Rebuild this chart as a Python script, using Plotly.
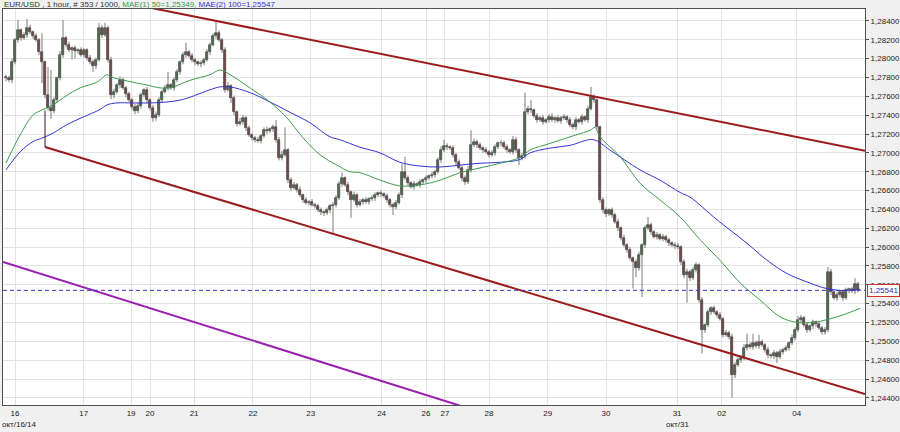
import plotly.graph_objects as go
import numpy as np

# ---------------- data ----------------
open_first = 1.2781
closes = [
    1.2779, 1.2777, 1.2796, 1.2820, 1.2830, 1.2822, 1.2825, 1.2833, 1.2828, 1.2824,
    1.2820, 1.2807, 1.2796, 1.2761, 1.2748, 1.2744, 1.2756, 1.2779, 1.2804, 1.2822,
    1.2815, 1.2809, 1.2811, 1.2808, 1.2809, 1.2804, 1.2809, 1.2801, 1.2796, 1.2792,
    1.2799, 1.2833, 1.2825, 1.2833, 1.2799, 1.2761, 1.2765, 1.2772, 1.2777, 1.2769,
    1.2762, 1.2756, 1.2749, 1.2744, 1.2750, 1.2761, 1.2767, 1.2756, 1.2748, 1.2737,
    1.2740, 1.2756, 1.2765, 1.2769, 1.2772, 1.2769, 1.2777, 1.2786, 1.2796, 1.2804,
    1.2807, 1.2803, 1.2799, 1.2796, 1.2794, 1.2795, 1.2799, 1.2807, 1.2815, 1.2824,
    1.2827, 1.2820, 1.2809, 1.2767, 1.2771, 1.2758, 1.2743, 1.2731, 1.2733, 1.2737,
    1.2726, 1.2719, 1.2716, 1.2714, 1.2713, 1.2718, 1.2724, 1.2723, 1.2725, 1.2727,
    1.2714, 1.2695, 1.2698, 1.2703, 1.2671, 1.2663, 1.2666, 1.2661, 1.2655, 1.2650,
    1.2647, 1.2648, 1.2645, 1.2644, 1.2639, 1.2637, 1.2636, 1.2639, 1.2644, 1.2645,
    1.2652, 1.2667, 1.2673, 1.2666, 1.2658, 1.2650, 1.2655, 1.2645, 1.2648, 1.2650,
    1.2648, 1.2651, 1.2652, 1.2655, 1.2657, 1.2656, 1.2654, 1.2650, 1.2645, 1.2643,
    1.2647, 1.2655, 1.2680, 1.2673, 1.2668, 1.2664, 1.2667, 1.2666, 1.2669, 1.2671,
    1.2673, 1.2675, 1.2677, 1.2680, 1.2692, 1.2703, 1.2707, 1.2706, 1.2705, 1.2698,
    1.2690, 1.2684, 1.2673, 1.2669, 1.2682, 1.2708, 1.2712, 1.2708, 1.2705, 1.2703,
    1.2701, 1.2698, 1.2700, 1.2706, 1.2710, 1.2711, 1.2706, 1.2703, 1.2701, 1.2714,
    1.2703, 1.2695, 1.2697, 1.2743, 1.2747, 1.2745, 1.2739, 1.2735, 1.2737, 1.2733,
    1.2735, 1.2738, 1.2735, 1.2737, 1.2734, 1.2737, 1.2738, 1.2735, 1.2730, 1.2727,
    1.2735, 1.2733, 1.2738, 1.2735, 1.2747, 1.2759, 1.2756, 1.2727, 1.2650, 1.2639,
    1.2635, 1.2639, 1.2634, 1.2627, 1.2620, 1.2610, 1.2602, 1.2597, 1.2588, 1.2584,
    1.2578, 1.2592, 1.2602, 1.2620, 1.2623, 1.2616, 1.2611, 1.2613, 1.2609, 1.2611,
    1.2607, 1.2604, 1.2602, 1.2601, 1.2600, 1.2584, 1.2570, 1.2574, 1.2567, 1.2576,
    1.2581, 1.2544, 1.2512, 1.2517, 1.2531, 1.2535, 1.2531, 1.2528, 1.2524, 1.2507,
    1.2509, 1.2505, 1.2464, 1.2475, 1.2480, 1.2482, 1.2493, 1.2496, 1.2494, 1.2498,
    1.2495, 1.2499, 1.2496, 1.2491, 1.2485, 1.2484, 1.2488, 1.2483, 1.2489, 1.2491,
    1.2493, 1.2498, 1.2504, 1.2512, 1.2523, 1.2525, 1.2517, 1.2512, 1.2516, 1.2520,
    1.2518, 1.2514, 1.2510, 1.2512, 1.2574, 1.2552, 1.2546, 1.2549, 1.2552, 1.2546,
    1.2554, 1.2555, 1.2553, 1.2561, 1.25541,
]
upper_wick_pips = [
    2, 3, 4, 2, 11, 2, 3, 9, 3, 2,
    3, 2, 20, 2, 30, 40, 3, 2, 4, 19,
    2, 3, 2, 3, 2, 3, 2, 2, 3, 3,
    2, 5, 3, 5, 2, 3, 3, 2, 4, 3,
    2, 3, 2, 3, 4, 3, 2, 3, 2, 3,
    4, 3, 2, 3, 14, 2, 3, 3, 2, 3,
    10, 2, 3, 2, 2, 3, 2, 3, 2, 3,
    12, 3, 2, 3, 4, 2, 3, 2, 4, 3,
    2, 3, 2, 2, 3, 2, 3, 4, 2, 3,
    8, 3, 4, 24, 2, 3, 3, 2, 3, 2,
    3, 2, 3, 2, 2, 3, 2, 3, 2, 3,
    3, 3, 6, 2, 3, 2, 4, 2, 3, 2,
    3, 2, 3, 3, 2, 3, 2, 3, 2, 2,
    3, 3, 8, 16, 3, 2, 3, 2, 3, 2,
    3, 2, 3, 2, 3, 4, 7, 3, 2, 3,
    2, 3, 2, 3, 4, 16, 3, 2, 3, 2,
    3, 2, 3, 3, 2, 3, 2, 3, 2, 4,
    3, 2, 3, 21, 3, 9, 2, 3, 2, 3,
    2, 3, 4, 2, 3, 2, 3, 2, 3, 2,
    3, 2, 3, 2, 3, 11, 3, 2, 2, 3,
    3, 2, 3, 2, 3, 2, 3, 2, 3, 2,
    3, 3, 2, 3, 9, 3, 2, 3, 2, 3,
    2, 3, 2, 3, 3, 2, 3, 3, 2, 3,
    3, 2, 3, 2, 3, 2, 3, 2, 3, 2,
    3, 2, 3, 3, 3, 3, 4, 12, 3, 10,
    3, 8, 3, 2, 3, 2, 3, 2, 3, 2,
    3, 2, 3, 3, 4, 3, 2, 3, 2, 3,
    2, 3, 2, 3, 5, 3, 2, 3, 2, 3,
    3, 2, 3, 6, 2,
]
lower_wick_pips = [
    3, 2, 3, 2, 3, 3, 2, 3, 2, 3,
    2, 3, 22, 3, 3, 8, 2, 3, 2, 3,
    3, 2, 10, 8, 3, 2, 3, 3, 2, 6,
    3, 2, 3, 2, 3, 4, 3, 2, 3, 2,
    3, 2, 3, 3, 2, 3, 2, 3, 3, 4,
    3, 2, 3, 2, 3, 2, 3, 2, 3, 2,
    3, 2, 3, 3, 2, 3, 2, 2, 3, 2,
    3, 2, 3, 3, 2, 5, 3, 3, 2, 3,
    3, 2, 3, 3, 2, 3, 2, 3, 2, 3,
    3, 3, 3, 2, 3, 3, 2, 3, 2, 3,
    2, 3, 2, 3, 2, 3, 3, 2, 3, 29,
    3, 2, 3, 2, 3, 19, 2, 3, 2, 3,
    2, 3, 2, 3, 2, 3, 2, 3, 3, 9,
    3, 2, 3, 2, 3, 2, 3, 2, 3, 2,
    3, 2, 2, 3, 2, 3, 2, 3, 2, 3,
    3, 2, 3, 3, 2, 3, 2, 3, 2, 3,
    2, 3, 2, 3, 2, 3, 2, 3, 2, 3,
    3, 8, 3, 3, 2, 3, 2, 3, 2, 3,
    2, 3, 2, 3, 2, 3, 2, 3, 3, 2,
    3, 2, 3, 2, 3, 2, 3, 2, 3, 3,
    3, 2, 3, 2, 3, 3, 2, 3, 2, 28,
    10, 3, 45, 3, 2, 3, 2, 3, 2, 3,
    2, 3, 2, 3, 2, 3, 3, 29, 3, 2,
    3, 3, 25, 3, 2, 3, 2, 3, 2, 3,
    2, 3, 24, 3, 2, 3, 2, 3, 2, 3,
    2, 3, 2, 3, 3, 2, 3, 6, 2, 3,
    2, 3, 2, 3, 2, 3, 2, 3, 2, 3,
    3, 2, 3, 3, 2, 3, 2, 3, 2, 3,
    2, 3, 2, 3, 2,
]

ma50_bars = [0, 4.7, 9, 12.3, 15.7, 20.3, 24.7, 30.3, 33.7, 34.7, 42.3, 47, 51.3, 54.7,
             61.3, 68, 71.3, 74.7, 81.3, 88, 93.7, 99, 104.7, 110.3, 114.7, 118, 124.7,
             131.3, 138, 144.7, 151.3, 158, 164.7, 171.3, 174.7, 181.3, 188, 194.7, 196.3,
             198, 204.7, 211.3, 218, 224.7, 231.3, 238, 244.7, 251.3, 258, 263.7, 269,
             273.7, 279, 284.7]
ma50_vals = [1.2689, 1.2719, 1.2740, 1.2746, 1.2751, 1.2761, 1.2769, 1.2775, 1.2783, 1.2781,
             1.2775, 1.2772, 1.2769, 1.2769, 1.2777, 1.2783, 1.2788, 1.2783, 1.2769, 1.2754,
             1.2737, 1.2716, 1.2698, 1.2687, 1.2680, 1.2679, 1.2671, 1.2665, 1.2666, 1.2671,
             1.2679, 1.2684, 1.2689, 1.2695, 1.2703, 1.2710, 1.2717, 1.2724, 1.2727, 1.2717,
             1.2696, 1.2668, 1.2650, 1.2632, 1.2608, 1.2586, 1.2562, 1.2544, 1.2526, 1.2520,
             1.2520, 1.2523, 1.2528, 1.2535]
ma100_bars = [0, 4.7, 9, 12.3, 15.7, 20.3, 25.7, 31.3, 33.7, 37, 42.3, 48, 53.7, 58, 61.3,
              68, 71.3, 74.7, 81.3, 88, 94.7, 101.3, 108, 111.3, 118, 124.7, 131.3, 138,
              144.7, 151.3, 158, 164.7, 171.3, 174.7, 181.3, 188, 195.7, 201.3, 211.3, 218,
              224.7, 228, 237, 247, 253.7, 260.3, 267, 272.3, 278, 284.7]
ma100_vals = [1.2682, 1.2701, 1.2712, 1.2716, 1.2721, 1.2730, 1.2738, 1.2746, 1.2751, 1.2753,
              1.2753, 1.2753, 1.2754, 1.2756, 1.2759, 1.2767, 1.2770, 1.2770, 1.2764, 1.2754,
              1.2743, 1.2732, 1.2717, 1.2714, 1.2706, 1.2700, 1.2690, 1.2686, 1.2685, 1.2687,
              1.2689, 1.2690, 1.2693, 1.2700, 1.2705, 1.2708, 1.2714, 1.2703, 1.2682, 1.2671,
              1.2658, 1.2653, 1.2629, 1.2604, 1.2586, 1.2572, 1.2563, 1.2557, 1.2554, 1.2555]

day_labels = ["16", "17", "19", "20", "21", "22", "23", "24", "26", "27",
              "28", "29", "30", "31", "02", "04"]
day_bars = [3, 25.9, 41.7, 48, 62.7, 82.3, 101.6, 125.2, 140, 146.3,
            161, 180.6, 200, 223.7, 238.6, 263.6]
month_labels = ["окт/16/14", "окт/31"]

price_ticks = [1.244, 1.246, 1.248, 1.250, 1.252, 1.254, 1.256, 1.258, 1.260, 1.262, 1.264,
               1.266, 1.268, 1.270, 1.272, 1.274, 1.276, 1.278, 1.280, 1.282, 1.284]
last_price = 1.25541
ma50_last = "1,25349"
ma100_last = "1,25547"

# trend lines drawn on the chart (bar index, price)
upper_line_bars, upper_line_prices = [48, 286.33], [1.28541, 1.27023]
lower_line_bars, lower_line_prices = [13, 286.33], [1.27062, 1.24440]
lower_stub_bars, lower_stub_prices = [13, 13], [1.2745, 1.27062]
purple_line_bars, purple_line_prices = [-1, 159], [1.25842, 1.24240]

# ---------------- build ----------------
assert len(closes) == len(upper_wick_pips) == len(lower_wick_pips)
c = np.array(closes)
o = np.concatenate([[open_first], c[:-1]])
top = np.maximum(o, c)
bot = np.minimum(o, c)
hi = top + np.array(upper_wick_pips) * 0.0001
lo = bot - np.array(lower_wick_pips) * 0.0001
xs = np.arange(len(c)) + 1.0   # x position of each bar

def bx(b):
    return [v + 1.0 for v in b]

fig = go.Figure()

GRID = "#e3e3e3"

# purple trend line
fig.add_trace(go.Scatter(x=bx(purple_line_bars), y=purple_line_prices, mode="lines",
                         line=dict(color="#9a1fb0", width=2), hoverinfo="skip"))
# wicks
wx, wy = [], []
for xv, h, l in zip(xs, hi, lo):
    wx += [xv, xv, None]
    wy += [l, h, None]
fig.add_trace(go.Scatter(x=wx, y=wy, mode="lines", line=dict(color="#7a7a7a", width=1),
                         hoverinfo="skip"))
# bodies
heights = np.maximum(top - bot, 0.00005)
colors = ["#236223" if cc >= oo else "#6e1515" for oo, cc in zip(o, c)]
fig.add_trace(go.Bar(x=xs, y=heights, base=bot, width=0.8,
                     marker=dict(color=colors, line=dict(color="#101010", width=0.6)),
                     hoverinfo="skip"))
# moving averages
fig.add_trace(go.Scatter(x=bx(ma100_bars), y=ma100_vals, mode="lines", line_shape="spline",
                         line=dict(color="#3434d4", width=1), hoverinfo="skip"))
fig.add_trace(go.Scatter(x=bx(ma50_bars), y=ma50_vals, mode="lines", line_shape="spline",
                         line=dict(color="#3d9b4f", width=1), hoverinfo="skip"))
# channel lines
fig.add_trace(go.Scatter(x=bx(upper_line_bars), y=upper_line_prices, mode="lines",
                         line=dict(color="#9b1b1b", width=2), hoverinfo="skip"))
fig.add_trace(go.Scatter(x=bx(lower_line_bars), y=lower_line_prices, mode="lines",
                         line=dict(color="#9b1b1b", width=2), hoverinfo="skip"))
fig.add_trace(go.Scatter(x=bx(lower_stub_bars), y=lower_stub_prices, mode="lines",
                         line=dict(color="#3a1414", width=1), hoverinfo="skip"))
# last price dashed line
fig.add_trace(go.Scatter(x=[0, 287.333], y=[last_price, last_price], mode="lines",
                         line=dict(color="#3535cc", width=1, dash="4px,3px"), hoverinfo="skip"))

def fmt(v):
    return f"{v:.5f}".replace(".", ",")

fig.update_layout(
    width=900, height=432,
    margin=dict(l=3, r=35, t=9, b=27, autoexpand=False),
    paper_bgcolor="#f0f0f0", plot_bgcolor="#ffffff",
    showlegend=False, bargap=0,
    font=dict(family="Arial, Liberation Sans, sans-serif", size=8, color="#222222"),
    xaxis=dict(range=[0, 287.333], tickmode="array", tickvals=bx(day_bars), ticktext=day_labels,
               showgrid=True, gridcolor=GRID, gridwidth=1, zeroline=False,
               showline=True, linecolor="#505050", linewidth=1, mirror=True,
               ticks="", tickfont=dict(size=8, color="#222222"), automargin=False),
    yaxis=dict(range=[1.24324, 1.28527], side="right", tickmode="array",
               tickvals=price_ticks, ticktext=[fmt(v) for v in price_ticks],
               showgrid=True, gridcolor=GRID, gridwidth=1, zeroline=False,
               showline=True, linecolor="#505050", linewidth=1, mirror=True,
               ticks="outside", ticklen=3, tickcolor="#505050", automargin=False,
               tickfont=dict(size=8, color="#222222")),
)

header = ("<span style='color:#333333'>EUR/USD , 1 hour, # 353 / 1000, </span>"
          f"<span style='color:#3a9a4a'>MAE(1) 50={ma50_last}, </span>"
          f"<span style='color:#3535cc'>MAE(2) 100={ma100_last}</span>")
fig.add_annotation(text=header, xref="paper", yref="paper", x=-0.0012, y=1.0105,
                   xanchor="left", yanchor="middle", showarrow=False,
                   font=dict(size=8))
fig.add_annotation(text=month_labels[0], xref="paper", yref="paper", x=-0.0035, y=-0.048,
                   xanchor="left", yanchor="middle", showarrow=False, font=dict(size=8))
fig.add_annotation(text=month_labels[1], xref="x", yref="paper", x=day_bars[13] + 1, y=-0.048,
                   xanchor="center", yanchor="middle", showarrow=False, font=dict(size=8))
fig.add_annotation(text=fmt(last_price), xref="paper", yref="y", x=1, xshift=2, y=last_price,
                   xanchor="left", yanchor="middle", showarrow=False,
                   font=dict(size=8, color="#2828c8"), bgcolor="#ffffff",
                   bordercolor="#d03030", borderwidth=1, borderpad=1)

fig.write_html("out.html", config={"displayModeBar": False},
               post_script="document.body.style.margin='0';document.body.style.padding='0';"
                           "document.documentElement.style.overflow='hidden';")
